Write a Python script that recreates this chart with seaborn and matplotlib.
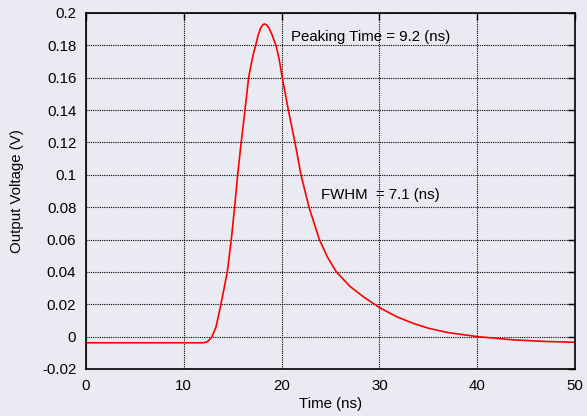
import matplotlib
matplotlib.use("Agg")
import matplotlib.pyplot as plt
import seaborn as sns
import pandas as pd

# pulse shape
time_ns = [0.0, 12.0, 12.4, 12.85, 13.3, 13.8, 14.45, 14.86, 15.2, 15.51, 15.87,
           16.26, 16.63, 16.95, 17.15, 17.35, 17.6, 17.85, 18.05, 18.23, 18.45,
           18.7, 19.0, 19.2, 19.42, 19.75, 20.07, 20.69, 21.37, 21.98, 22.8,
           23.86, 24.7, 25.6, 27.0, 28.5, 30.0, 31.7, 33.45, 35.0, 37.0, 40.0,
           43.7, 47.0, 50.0]
voltage_v = [-0.0038, -0.0038, -0.0032, -0.0005, 0.006, 0.020, 0.040, 0.060,
             0.080, 0.100, 0.120, 0.140, 0.160, 0.170, 0.1755, 0.180, 0.1862,
             0.1905, 0.1925, 0.1932, 0.1927, 0.1908, 0.1868, 0.1835, 0.180,
             0.1715, 0.160, 0.140, 0.120, 0.100, 0.080, 0.060, 0.049, 0.040,
             0.031, 0.024, 0.018, 0.0125, 0.0082, 0.0052, 0.0025, 0.0, -0.002,
             -0.003, -0.0035]

x_ticks = [0, 10, 20, 30, 40, 50]
y_ticks = [-0.02, 0, 0.02, 0.04, 0.06, 0.08, 0.1, 0.12, 0.14, 0.16, 0.18, 0.2]
y_tick_labels = ["-0.02", "0", "0.02", "0.04", "0.06", "0.08", "0.1", "0.12",
                 "0.14", "0.16", "0.18", "0.2"]

df = pd.DataFrame({"Time (ns)": time_ns, "Output Voltage (V)": voltage_v})

sns.set_style("white")
plt.rcParams["font.family"] = ["Liberation Sans", "DejaVu Sans"]
plt.rcParams["text.color"] = "black"
plt.rcParams["axes.labelcolor"] = "black"
bg = "#eaeaf2"
fs = 10.8

fig = plt.figure(figsize=(5.87, 4.16), dpi=100, facecolor=bg)
ax = fig.add_axes([0.1465, 0.113, 0.833, 0.856], facecolor=bg)

sns.lineplot(data=df, x="Time (ns)", y="Output Voltage (V)", color="red",
             linewidth=1.2, ax=ax)

ax.set_xlim(0, 50)
ax.set_ylim(-0.02, 0.2)
ax.set_xticks(x_ticks)
ax.set_yticks(y_ticks)
ax.set_yticklabels(y_tick_labels)
ax.grid(True, color="black", linestyle=(0, (1, 1)), linewidth=0.8)

for s in ax.spines.values():
    s.set_color("black")
    s.set_linewidth(1.2)
ax.tick_params(direction="in", length=5, width=1, top=True, right=True,
               labelsize=fs, colors="black", pad=7)

ax.set_xlabel("Time (ns)", fontsize=fs, labelpad=3)
ax.set_ylabel("Output Voltage (V)", fontsize=fs, labelpad=13)

ax.text(21.0, 0.185, "Peaking Time = 9.2 (ns)", fontsize=fs, va="center")
ax.text(24.0, 0.0875, "FWHM  = 7.1 (ns)", fontsize=fs, va="center")

fig.savefig("out.png", dpi=100, facecolor=bg)
